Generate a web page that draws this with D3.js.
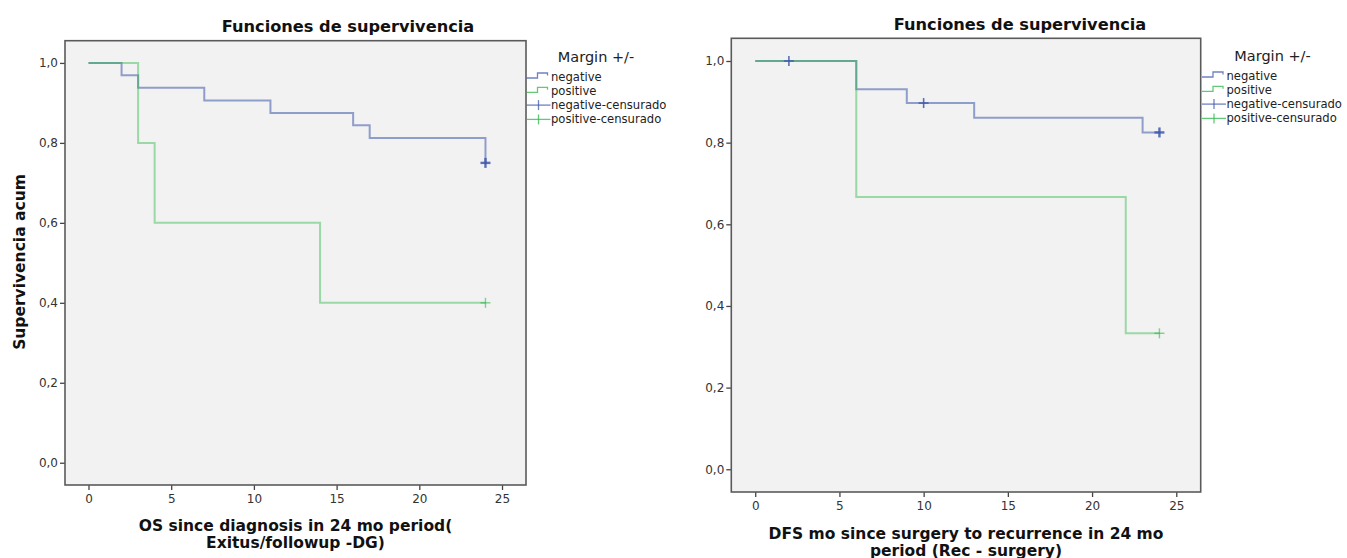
<!DOCTYPE html>
<html>
<head>
<meta charset="utf-8">
<script src="https://cdn.jsdelivr.net/npm/d3@7"></script>
<style>
  html, body { margin: 0; padding: 0; background: #ffffff; }
  svg { display: block; font-family: "DejaVu Sans", sans-serif; }
</style>
</head>
<body>
<svg id="chart" width="1347" height="558"></svg>
<script>
// ---------- DATA ----------
const chartTitle = "Funciones de supervivencia";
const legendTitle = "Margin +/-";
const legendLabels = ["negative", "positive", "negative-censurado", "positive-censurado"];
const yTicks = [0, 0.2, 0.4, 0.6, 0.8, 1.0];
const xTicks = [0, 5, 10, 15, 20, 25];

// Left panel: OS
const osNegTime = [0, 2, 3, 7, 11, 16, 17, 24];
const osNegSurv = [1, 0.969, 0.938, 0.906, 0.875, 0.844, 0.812, 0.75];
const osNegCensTime = [24];
const osNegCensSurv = [0.75];
const osPosTime = [0, 3, 4, 14, 24];
const osPosSurv = [1, 0.8, 0.6, 0.4, 0.4];
const osPosCensTime = [24];
const osPosCensSurv = [0.4];
const osXTitle = ["OS since diagnosis in 24 mo period(", "Exitus/followup -DG)"];
const osYTitle = "Supervivencia acum";

// Right panel: DFS
const dfsNegTime = [0, 6, 9, 13, 23, 24];
const dfsNegSurv = [1, 0.931, 0.897, 0.861, 0.825, 0.825];
const dfsNegCensTime = [2, 10, 24];
const dfsNegCensSurv = [1, 0.897, 0.825];
const dfsPosTime = [0, 6, 22, 24];
const dfsPosSurv = [1, 0.667, 0.333, 0.333];
const dfsPosCensTime = [24];
const dfsPosCensSurv = [0.333];
const dfsXTitle = ["DFS mo since surgery to recurrence in 24 mo", "period (Rec - surgery)"];

// ---------- STYLE ----------
const BLUE = "#3e58ac", GREEN = "#2eb848";
const svg = d3.select("#chart");
const fmt = d => d3.format(".1f")(d).replace(".", ",");

function panel(cfg) {
  const x = d3.scaleLinear().domain([-1.42, 26.45]).range([cfg.left, cfg.right]);
  const y = d3.scaleLinear().domain([-0.0557, 1.0556]).range([cfg.bottom, cfg.top]);
  const g = svg.append("g");

  g.append("rect").attr("x", cfg.left).attr("y", cfg.top)
    .attr("width", cfg.right - cfg.left).attr("height", cfg.bottom - cfg.top)
    .attr("fill", "#f2f2f2");

  // axes
  const yAxis = g.append("g").attr("transform", `translate(${cfg.left},0)`)
    .call(d3.axisLeft(y).tickValues(yTicks).tickFormat(fmt).tickSize(5).tickPadding(2));
  const xAxis = g.append("g").attr("transform", `translate(0,${cfg.bottom})`)
    .call(d3.axisBottom(x).tickValues(xTicks).tickFormat(d3.format("d")).tickSize(5).tickPadding(4));
  [yAxis, xAxis].forEach(a => {
    a.select(".domain").remove();
    a.selectAll(".tick line").attr("stroke", "#444").attr("stroke-width", 1.3);
    a.selectAll(".tick text").attr("fill", "#333").style("font-size", "12px")
      .style("font-family", "'DejaVu Sans', sans-serif");
  });

  // frame
  g.append("rect").attr("x", cfg.left).attr("y", cfg.top)
    .attr("width", cfg.right - cfg.left).attr("height", cfg.bottom - cfg.top)
    .attr("fill", "none").attr("stroke", "#5a5a5a").attr("stroke-width", 1.6);

  const line = d3.line().x(d => x(d[0])).y(d => y(d[1])).curve(d3.curveStepAfter);
  const series = [
    {t: cfg.negTime, s: cfg.negSurv, color: BLUE, op: 0.55},
    {t: cfg.posTime, s: cfg.posSurv, color: GREEN, op: 0.45}
  ];
  series.forEach(sr => {
    g.append("path").datum(d3.zip(sr.t, sr.s)).attr("d", line)
      .attr("fill", "none").attr("stroke", sr.color).attr("stroke-opacity", sr.op)
      .attr("stroke-width", 2);
  });

  const cens = [
    {t: cfg.negCensTime, s: cfg.negCensSurv, color: BLUE, op: 0.85, w: 1.6},
    {t: cfg.posCensTime, s: cfg.posCensSurv, color: GREEN, op: 0.6, w: 1.4}
  ];
  cens.forEach(c => {
    const pts = d3.zip(c.t, c.s);
    const m = g.selectAll(null).data(pts).enter().append("g")
      .attr("transform", d => `translate(${x(d[0])},${y(d[1])})`);
    m.append("line").attr("x1", -5).attr("x2", 5).attr("y1", 0).attr("y2", 0);
    m.append("line").attr("x1", 0).attr("x2", 0).attr("y1", -5).attr("y2", 5);
    m.selectAll("line").attr("stroke", c.color).attr("stroke-opacity", c.op)
      .attr("stroke-width", d => (d[0] === 24 && c.color === BLUE) ? 2.4 : c.w);
  });

  // title
  g.append("text").attr("x", cfg.titleX).attr("y", cfg.titleY)
    .attr("text-anchor", "middle").attr("font-weight", "bold").attr("font-size", 16.2)
    .attr("fill", "#111").text(chartTitle);

  // x title
  cfg.xTitle.forEach((t, i) => {
    g.append("text").attr("x", (cfg.left + cfg.right) / 2).attr("y", cfg.xTitleY + i * 17)
      .attr("text-anchor", "middle").attr("font-weight", "bold").attr("font-size", 15.5)
      .attr("fill", "#111").text(t);
  });

  if (cfg.yTitle) {
    g.append("text").attr("transform", `translate(25,262) rotate(-90)`)
      .attr("text-anchor", "middle").attr("font-weight", "bold").attr("font-size", 15.5)
      .attr("fill", "#111").text(cfg.yTitle);
  }

  // legend
  const lg = g.append("g");
  lg.append("text").attr("x", cfg.legTitleX).attr("y", cfg.legTop - 20)
    .attr("text-anchor", "middle").attr("font-size", 14.5).attr("fill", "#222")
    .attr("dominant-baseline", "central").text(legendTitle);
  const lx = cfg.legX;
  legendLabels.forEach((lab, i) => {
    const cy = cfg.legTop + i * 14.3;
    const color = (i % 2 === 0) ? BLUE : GREEN;
    if (i < 2) {
      lg.append("path")
        .attr("d", `M${lx},${cy + 1.5}H${lx + 11}V${cy - 3.5}H${lx + 21}V${cy - 1}`)
        .attr("fill", "none").attr("stroke", color).attr("stroke-opacity", 0.75).attr("stroke-width", 1.3);
    } else {
      lg.append("line").attr("x1", lx).attr("x2", lx + 24).attr("y1", cy).attr("y2", cy)
        .attr("stroke", color).attr("stroke-opacity", 0.75).attr("stroke-width", 1.3);
      lg.append("line").attr("x1", lx + 12).attr("x2", lx + 12).attr("y1", cy - 5).attr("y2", cy + 5)
        .attr("stroke", color).attr("stroke-opacity", 0.75).attr("stroke-width", 1.3);
    }
    lg.append("text").attr("x", lx + 24.5).attr("y", cy)
      .attr("dominant-baseline", "central").attr("font-size", 11.6).attr("fill", "#222").text(lab);
  });
}

panel({
  left: 65, right: 526, top: 40.7, bottom: 485,
  negTime: osNegTime, negSurv: osNegSurv, negCensTime: osNegCensTime, negCensSurv: osNegCensSurv,
  posTime: osPosTime, posSurv: osPosSurv, posCensTime: osPosCensTime, posCensSurv: osPosCensSurv,
  titleX: 348, titleY: 32, xTitle: osXTitle, xTitleY: 531, yTitle: osYTitle,
  legTitleX: 596, legTop: 76.5, legX: 526.5
});

panel({
  left: 731.3, right: 1200.7, top: 38.3, bottom: 492,
  negTime: dfsNegTime, negSurv: dfsNegSurv, negCensTime: dfsNegCensTime, negCensSurv: dfsNegCensSurv,
  posTime: dfsPosTime, posSurv: dfsPosSurv, posCensTime: dfsPosCensTime, posCensSurv: dfsPosCensSurv,
  titleX: 1020, titleY: 30, xTitle: dfsXTitle, xTitleY: 538.5, yTitle: null,
  legTitleX: 1272.5, legTop: 75.5, legX: 1202
});
</script>
</body>
</html>
